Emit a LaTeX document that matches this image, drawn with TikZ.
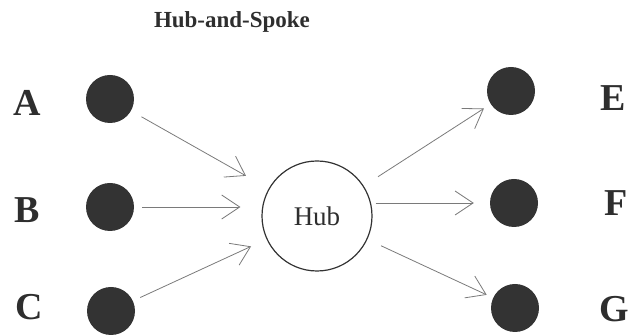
\documentclass[tikz,border=0pt]{standalone}
\usepackage{fontspec}
\setmainfont{Liberation Serif}
\usetikzlibrary{arrows.meta}
\definecolor{dotc}{HTML}{333333}
\definecolor{arrc}{HTML}{7A7A7A}
\definecolor{txtc}{HTML}{2E2E2E}
\begin{document}
\begin{tikzpicture}[x=1pt,y=-1pt,
  dotnode/.style={circle,fill=dotc,minimum size=48pt,inner sep=0pt},
  letter/.style={font=\fontsize{38}{40}\selectfont\bfseries,text=txtc,inner sep=0pt},
  hubnode/.style={circle,draw=dotc,line width=1.2pt,minimum size=110pt,inner sep=0pt,font=\fontsize{27}{30}\selectfont,text=txtc},
  spoke/.style={draw=arrc,line width=0.8pt,-{Straight Barb[length=18pt,width=24pt]}}]
\useasboundingbox (0,0) rectangle (633,336);
\node[font=\fontsize{23}{26}\selectfont\bfseries,text=txtc] (title) at (232,22) {Hub-and-Spoke};
\node[letter] (lA) at (27,103) {A};
\node[letter] (lB) at (27,210) {B};
\node[letter] (lC) at (29,307) {C};
\node[letter] (lE) at (613,98) {E};
\node[letter] (lF) at (616,203) {F};
\node[letter] (lG) at (614,309) {G};
\node[dotnode] (A) at (110,99) {};
\node[dotnode] (B) at (110,207) {};
\node[dotnode] (C) at (111,311) {};
\node[dotnode] (E) at (511,91) {};
\node[dotnode] (F) at (514,203) {};
\node[dotnode] (G) at (515,308) {};
\node[hubnode] (H) at (317,216) {Hub};
\draw[spoke,shorten <=12pt,shorten >=26pt] (A) -- (H);
\draw[spoke,shorten <=8pt,shorten >=21pt] (B.east) -- (H.west |- B.east);
\draw[spoke,shorten <=8pt,shorten >=17pt] (C) -- (H);
\draw[spoke,shorten <=17pt,shorten >=8pt] (H) -- (E);
\draw[spoke,shorten <=3pt,shorten >=16pt] (H.east |- F.west) -- (F.west);
\draw[spoke,shorten <=15pt,shorten >=7pt] (H) -- (G);
\end{tikzpicture}
\end{document}
